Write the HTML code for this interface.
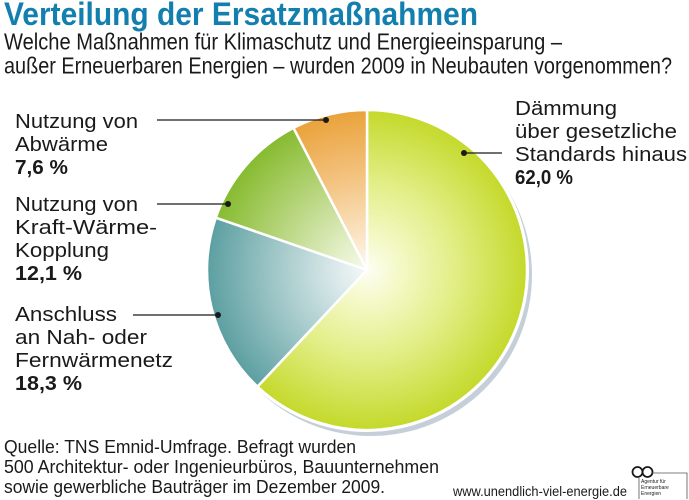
<!DOCTYPE html>
<html>
<head>
<meta charset="utf-8">
<style>
html,body{margin:0;padding:0;background:#fff;}
body{width:689px;height:500px;overflow:hidden;}
svg{display:block;}
text{font-family:"Liberation Sans",sans-serif;fill:#1a1a1a;}
</style>
</head>
<body>
<svg width="689" height="500" viewBox="0 0 689 500" xmlns="http://www.w3.org/2000/svg">
<defs>
<radialGradient id="gBig" gradientUnits="userSpaceOnUse" cx="367" cy="270" r="160">
<stop offset="0" stop-color="#fdfef4"/>
<stop offset="0.2" stop-color="#f4f9c8"/>
<stop offset="0.55" stop-color="#e2ee86"/>
<stop offset="1" stop-color="#c4d92b"/>
</radialGradient>
<radialGradient id="gTeal" gradientUnits="userSpaceOnUse" cx="367" cy="270" r="160">
<stop offset="0" stop-color="#f4f8f8"/>
<stop offset="0.2" stop-color="#dbe9ea"/>
<stop offset="0.6" stop-color="#9dc5c6"/>
<stop offset="1" stop-color="#5c9fa1"/>
</radialGradient>
<radialGradient id="gGreen" gradientUnits="userSpaceOnUse" cx="367" cy="270" r="160">
<stop offset="0" stop-color="#f6faee"/>
<stop offset="0.2" stop-color="#e3efc8"/>
<stop offset="0.6" stop-color="#b5d47a"/>
<stop offset="1" stop-color="#86bb2f"/>
</radialGradient>
<radialGradient id="gOrange" gradientUnits="userSpaceOnUse" cx="367" cy="270" r="160">
<stop offset="0" stop-color="#fefaf3"/>
<stop offset="0.2" stop-color="#fbe6c8"/>
<stop offset="0.6" stop-color="#f3c27e"/>
<stop offset="1" stop-color="#eaa23a"/>
</radialGradient>
</defs>

<!-- Title -->
<text x="4" y="25" font-size="32" font-weight="bold" style="fill:#137fae" textLength="474" lengthAdjust="spacingAndGlyphs">Verteilung der Ersatzmaßnahmen</text>
<text x="4" y="49.5" font-size="23" textLength="558" lengthAdjust="spacingAndGlyphs">Welche Maßnahmen für Klimaschutz und Energieeinsparung –</text>
<text x="4" y="73.5" font-size="23" textLength="668" lengthAdjust="spacingAndGlyphs">außer Erneuerbaren Energien – wurden 2009 in Neubauten vorgenommen?</text>

<!-- Pie shadow -->
<circle cx="371" cy="275" r="161" fill="#c5cfda"/>
<circle cx="367" cy="270" r="162" fill="#ffffff"/>

<!-- Slices -->
<g stroke="#ffffff" stroke-width="2.5" stroke-linejoin="round">
<path d="M367,270 L367,110 A160,160 0 1 1 257.48,386.64 Z" fill="url(#gBig)"/>
<path d="M367,270 L257.48,386.64 A160,160 0 0 1 215.8,217.7 Z" fill="url(#gTeal)"/>
<path d="M367,270 L215.8,217.7 A160,160 0 0 1 293.5,127.9 Z" fill="url(#gGreen)"/>
<path d="M367,270 L293.5,127.9 A160,160 0 0 1 367,110 Z" fill="url(#gOrange)"/>
</g>

<!-- Leader lines -->
<g stroke="#1a1a1a" stroke-width="1.3">
<line x1="157" y1="120" x2="326" y2="120"/>
<line x1="157" y1="204" x2="228" y2="204"/>
<line x1="133" y1="315" x2="218" y2="315"/>
<line x1="464" y1="153" x2="502" y2="153"/>
</g>
<g fill="#1a1a1a">
<circle cx="326" cy="120" r="3"/>
<circle cx="228" cy="204" r="3"/>
<circle cx="218" cy="315" r="3"/>
<circle cx="464" cy="153" r="3"/>
</g>

<!-- Left labels -->
<g font-size="20">
<text x="15" y="128" textLength="123" lengthAdjust="spacingAndGlyphs">Nutzung von</text>
<text x="15" y="151" textLength="93" lengthAdjust="spacingAndGlyphs">Abwärme</text>
<text x="15" y="174" font-weight="bold" textLength="53" lengthAdjust="spacingAndGlyphs">7,6 %</text>

<text x="15" y="211" textLength="123" lengthAdjust="spacingAndGlyphs">Nutzung von</text>
<text x="15" y="234" textLength="142" lengthAdjust="spacingAndGlyphs">Kraft-Wärme-</text>
<text x="15" y="257" textLength="94" lengthAdjust="spacingAndGlyphs">Kopplung</text>
<text x="15" y="280" font-weight="bold" textLength="67" lengthAdjust="spacingAndGlyphs">12,1 %</text>

<text x="15" y="321" textLength="102" lengthAdjust="spacingAndGlyphs">Anschluss</text>
<text x="15" y="344" textLength="132" lengthAdjust="spacingAndGlyphs">an Nah- oder</text>
<text x="15" y="367" textLength="158" lengthAdjust="spacingAndGlyphs">Fernwärmenetz</text>
<text x="15" y="390" font-weight="bold" textLength="67" lengthAdjust="spacingAndGlyphs">18,3 %</text>

<!-- Right label -->
<text x="515" y="115" textLength="102" lengthAdjust="spacingAndGlyphs">Dämmung</text>
<text x="515" y="138" textLength="162" lengthAdjust="spacingAndGlyphs">über gesetzliche</text>
<text x="515" y="161" textLength="172" lengthAdjust="spacingAndGlyphs">Standards hinaus</text>
<text x="515" y="184" font-weight="bold" textLength="58" lengthAdjust="spacingAndGlyphs">62,0 %</text>
</g>

<!-- Footer -->
<g font-size="18">
<text x="4" y="453" textLength="352" lengthAdjust="spacingAndGlyphs">Quelle: TNS Emnid-Umfrage. Befragt wurden</text>
<text x="4" y="473" textLength="435" lengthAdjust="spacingAndGlyphs">500 Architektur- oder Ingenieurbüros, Bauunternehmen</text>
<text x="4" y="493" textLength="381" lengthAdjust="spacingAndGlyphs">sowie gewerbliche Bauträger im Dezember 2009.</text>
</g>
<text x="453" y="496" font-size="14" textLength="174" lengthAdjust="spacingAndGlyphs">www.unendlich-viel-energie.de</text>

<!-- Logo -->
<g fill="none" stroke="#1a1a1a" stroke-width="1.8">
<ellipse cx="637.5" cy="472" rx="5" ry="5"/>
<ellipse cx="647.5" cy="472" rx="5" ry="5"/>
</g>
<g fill="none" stroke="#555" stroke-width="0.8">
<polyline points="652,473 687,473 687,499"/>
<line x1="639" y1="478" x2="639" y2="499"/>
</g>
<g font-size="5">
<text x="641" y="483">Agentur für</text>
<text x="641" y="489">Erneuerbare</text>
<text x="641" y="495">Energien</text>
</g>
</svg>
</body>
</html>
